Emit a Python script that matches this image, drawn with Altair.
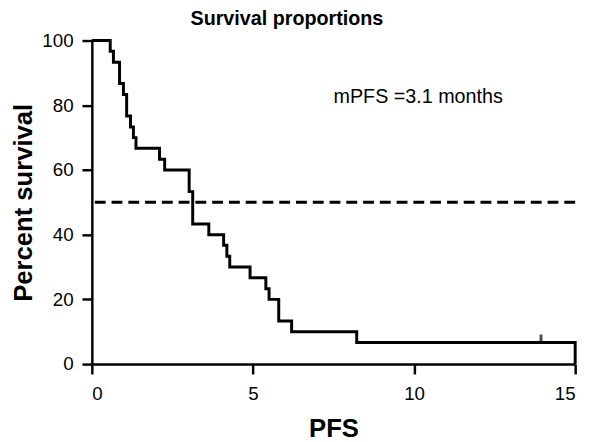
import altair as alt
import pandas as pd

# Kaplan-Meier step points (PFS months, percent survival)
pfs_time = [0, 0.57, 0.67, 0.86, 0.98, 1.08, 1.20, 1.29, 1.37, 2.10, 2.26, 3.02, 3.13,
            3.63, 4.09, 4.19, 4.28, 4.91, 5.40, 5.50, 5.80, 6.20, 8.22, 15.0]
pct_surv = [100, 96.7, 93.3, 86.7, 83.3, 76.7, 73.3, 70.0, 66.7, 63.3, 60.0, 53.3, 43.3,
            40.0, 36.7, 33.3, 30.0, 26.7, 23.3, 20.0, 13.3, 10.0, 6.7, 0]
censor_time = [13.94]
censor_pct = [6.7]
median_line = [50]
annot_x = [7.5]
annot_y = [80.6]
annot_text = ["mPFS =3.1 months"]
x_ticks = [0, 5, 10, 15]
y_ticks = [0, 20, 40, 60, 80, 100]

FONT = "Liberation Sans"

km = pd.DataFrame({"t": pfs_time, "s": pct_surv})
cens = pd.DataFrame({"t": censor_time, "s": censor_pct})
med = pd.DataFrame({"m": median_line})
ann = pd.DataFrame({"x": annot_x, "y": annot_y, "label": annot_text})

xscale = alt.Scale(domain=[0, 15], nice=False, zero=True)
yscale = alt.Scale(domain=[0, 100], nice=False, zero=True)

xaxis = alt.Axis(values=x_ticks, title="PFS", grid=False, format="d",
                 labelPadding=11, titlePadding=12)
yaxis = alt.Axis(values=y_ticks, title="Percent survival", grid=False, format="d",
                 labelPadding=9, titleX=-56)

line = alt.Chart(km).mark_line(interpolate="step-after", color="black", strokeWidth=3).encode(
    x=alt.X("t:Q", scale=xscale, axis=xaxis),
    y=alt.Y("s:Q", scale=yscale, axis=yaxis),
)

censor = alt.Chart(cens).mark_tick(orient="vertical", color="black", size=8, thickness=3,
                                   yOffset=-4).encode(
    x=alt.X("t:Q", scale=xscale),
    y=alt.Y("s:Q", scale=yscale),
)

dashed = alt.Chart(med).mark_rule(color="black", strokeWidth=3, strokeDash=[11, 6]).encode(
    y=alt.Y("m:Q", scale=yscale),
)

text = alt.Chart(ann).mark_text(align="left", baseline="alphabetic", font=FONT, fontSize=20,
                                color="black").encode(
    x=alt.X("x:Q", scale=xscale),
    y=alt.Y("y:Q", scale=yscale),
    text="label:N",
)

chart = alt.layer(dashed, line, censor, text).properties(
    width=490,
    height=328,
    autosize=alt.AutoSizeParams(type="none"),
    padding={"left": 85, "top": 30, "right": 13, "bottom": 76},
    title=alt.TitleParams(
        "Survival proportions", font=FONT, fontSize=20, fontWeight="bold", color="black",
        anchor="start", frame="group", dx=100, baseline="alphabetic", offset=-13,
    ),
).configure_view(stroke=None).configure_axis(
    domainColor="black", domainWidth=2.5, tickColor="black", tickWidth=2.5, tickSize=10,
    labelFont=FONT, labelFontSize=19, labelColor="black",
    titleFont=FONT, titleFontSize=26, titleFontWeight="bold", titleColor="black",
)

chart.save("out.html", embed_options={"renderer": "svg", "actions": False})
